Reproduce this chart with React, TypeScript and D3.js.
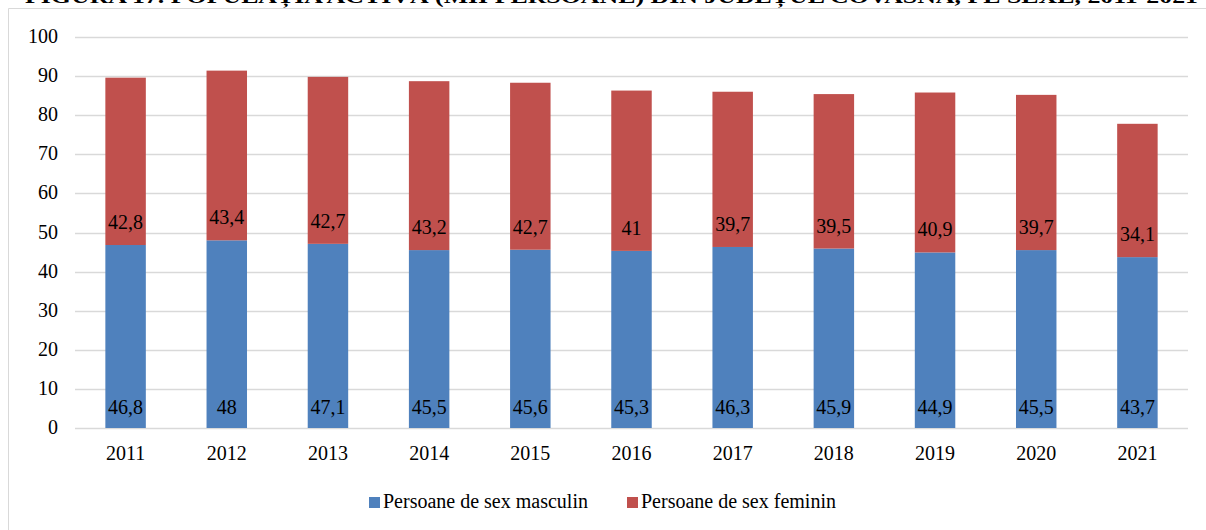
import React from "react";
import * as d3 from "d3";

const years = ["2011","2012","2013","2014","2015","2016","2017","2018","2019","2020","2021"];
const masculin = [46.8,48,47.1,45.5,45.6,45.3,46.3,45.9,44.9,45.5,43.7];
const feminin = [42.8,43.4,42.7,43.2,42.7,41,39.7,39.5,40.9,39.7,34.1];
const yTicks = [0,10,20,30,40,50,60,70,80,90,100];
const seriesNames = ["Persoane de sex masculin","Persoane de sex feminin"];
const colors = ["#4F81BD","#C0504D"];
const title = "FIGURA 17. POPULAȚIA ACTIVĂ (MII PERSOANE) DIN JUDEȚUL COVASNA, PE SEXE, 2011-2021";

const fmt = (v: number) => String(v).replace(".", ",");

export default function App() {
  const W = 1206, H = 530;
  const x0 = 75, x1 = 1188;
  const x = d3.scaleBand<string>().domain(years).range([x0, x1]).paddingInner(0.6).paddingOuter(0.3);
  const y = d3.scaleLinear().domain([0, 100]).range([428, 37]);
  const font = '"Liberation Serif", "Times New Roman", "DejaVu Serif", serif';
  const fs = 20;

  return (
    <svg width={W} height={H} style={{ position: "absolute", left: 0, top: 0, background: "#fff", fontFamily: font }}>
      <text x={25} y={3} fontSize={18} fontWeight="bold" textLength={1173} lengthAdjust="spacingAndGlyphs">{title}</text>
      <line x1={8.5} y1={8.5} x2={W} y2={8.5} stroke="#D9D9D9" />
      <line x1={8.5} y1={8.5} x2={8.5} y2={H} stroke="#D9D9D9" />
      {yTicks.map(t => (
        <g key={t}>
          <line x1={x0} x2={x1} y1={Math.round(y(t)) + 0.5} y2={Math.round(y(t)) + 0.5} stroke="#D9D9D9" strokeWidth={1.5} />
          <text x={58} y={y(t) + 6} textAnchor="end" fontSize={fs}>{t}</text>
        </g>
      ))}
      {years.map((yr, i) => {
        const bx = x(yr)!;
        const bw = x.bandwidth();
        const m = masculin[i], f = feminin[i];
        return (
          <g key={yr}>
            <rect x={bx} width={bw} y={y(m)} height={y(0) - y(m)} fill={colors[0]} />
            <rect x={bx} width={bw} y={y(m + f)} height={y(m) - y(m + f)} fill={colors[1]} />
            <text x={bx + bw / 2} y={y(0) - 14} textAnchor="middle" fontSize={fs}>{fmt(m)}</text>
            <text x={bx + bw / 2} y={y(m) - 16} textAnchor="middle" fontSize={fs}>{fmt(f)}</text>
            <text x={bx + bw / 2} y={460} textAnchor="middle" fontSize={fs}>{yr}</text>
          </g>
        );
      })}
      <rect x={369} y={497} width={11} height={11} fill={colors[0]} />
      <text x={383} y={508} fontSize={fs}>{seriesNames[0]}</text>
      <rect x={627} y={497} width={11} height={11} fill={colors[1]} />
      <text x={641} y={508} fontSize={fs}>{seriesNames[1]}</text>
    </svg>
  );
}
